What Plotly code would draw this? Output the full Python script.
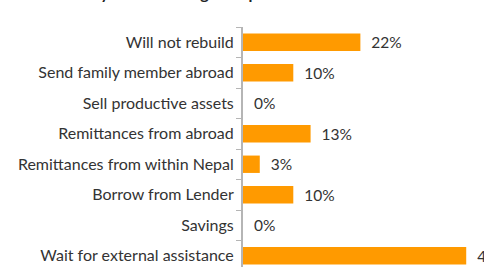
import plotly.graph_objects as go

categories = [
    "Will not rebuild",
    "Send family member abroad",
    "Sell productive assets",
    "Remittances from abroad",
    "Remittances from within Nepal",
    "Borrow from Lender",
    "Savings",
    "Wait for external assistance",
]
values = [22.4, 9.6, 0, 12.9, 3.2, 9.6, 0, 42.6]
title_text = "Actions taken by residents to get help"

W, H = 484, 267
left, top = 243, 27
band = 30.5
scale = 5.24
plot_h = H - top
plot_w = W - left
y_bottom = -0.5 + plot_h / band
x_max = plot_w / scale
FONT = "Lato"

fig = go.Figure(
    go.Bar(
        y=categories,
        x=values,
        orientation="h",
        marker=dict(color="#FF9A00", line=dict(width=0)),
        texttemplate="\u00a0\u00a0%{x:.0f}%",
        textposition="outside",
        cliponaxis=False,
        constraintext="none",
        textfont=dict(family=FONT, size=15.5, color="#333333"),
        width=0.57,
        hoverinfo="skip",
    )
)

fig.update_layout(
    width=W,
    height=H,
    margin=dict(l=left, r=0, t=top, b=0, pad=0),
    paper_bgcolor="white",
    plot_bgcolor="white",
    showlegend=False,
    font=dict(family=FONT, size=16, color="#333333"),
    annotations=[
        dict(
            text="<b>" + title_text + "</b>",
            xref="paper",
            yref="paper",
            x=(-12 - left) / plot_w,
            y=1 + (top - 3) / plot_h,
            xanchor="left",
            yanchor="bottom",
            showarrow=False,
            borderpad=0,
            font=dict(family=FONT, size=16, color="#222222"),
        )
    ],
)

fig.update_xaxes(
    range=[0, x_max],
    showgrid=False,
    zeroline=False,
    showticklabels=False,
    showline=False,
    ticks="",
)
fig.update_yaxes(
    type="category",
    range=[y_bottom, -0.5],
    showline=True,
    linecolor="#B5B5B5",
    linewidth=2,
    ticks="outside",
    tickson="boundaries",
    ticklen=5,
    tickcolor="#B5B5B5",
    tickwidth=1,
    ticklabelstandoff=4,
    showgrid=False,
    tickfont=dict(family=FONT, size=16, color="#333333"),
)

fig.write_html(
    "out.html",
    config={"displayModeBar": False},
    post_script="document.body.style.margin='0';",
)
